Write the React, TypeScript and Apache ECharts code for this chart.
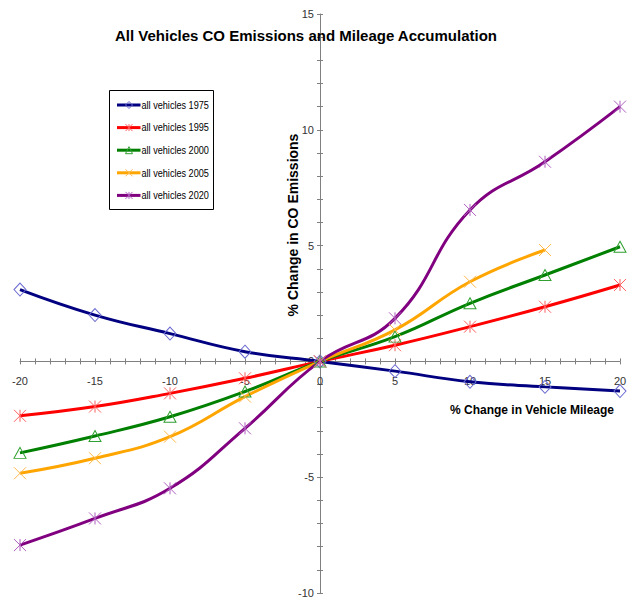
import React, { useEffect, useRef } from "react";
import * as echarts from "echarts";

const mileage = [-20, -15, -10, -5, 0, 5, 10, 15, 20];
const v1975 = [3.1, 2.0, 1.2, 0.42, 0, -0.42, -0.88, -1.1, -1.28];
const v1995 = [-2.35, -1.95, -1.38, -0.73, 0, 0.7, 1.5, 2.36, 3.3];
const v2000 = [-3.95, -3.22, -2.39, -1.3, 0, 1.07, 2.51, 3.73, 4.95];
const v2005 = [-4.83, -4.18, -3.25, -1.52, 0, 1.36, 3.44, 4.81, null];
const v2020 = [-7.93, -6.78, -5.48, -2.89, 0, 1.86, 6.54, 8.62, 11.0];

const seriesNames = [
  "all vehicles 1975",
  "all vehicles 1995",
  "all vehicles 2000",
  "all vehicles 2005",
  "all vehicles 2020",
];
const lineColors = ["#000080", "#ff0000", "#008000", "#ffa500", "#800080"];
const markColors = ["#6a6ad0", "#ff6060", "#30a030", "#ffb84a", "#b060c0"];
const markKinds = ["diamond", "star", "triangle", "x", "star"];

const titleText = "All Vehicles CO Emissions and Mileage Accumulation";
const xName = "% Change in Vehicle Mileage";
const yName = "% Change in CO Emissions";

const SANS = '"Liberation Sans", Arial, sans-serif';

const SYMBOLS: Record<string, string> = {
  diamond: "path://M5 0L10 6L5 12L0 6Z",
  triangle: "path://M5 0L10 10L0 10Z",
  star: "path://M0 0L10 10M10 0L0 10M5 0L5 10",
  x: "path://M0 0L10 10M10 0L0 10",
};
const SYMBOL_SIZES: Record<string, number | number[]> = {
  diamond: [12, 13],
  triangle: [12, 11],
  star: 12,
  x: 12,
};

function toPairs(vals: (number | null)[]) {
  const out: [number, number][] = [];
  vals.forEach((v, i) => {
    if (v !== null) out.push([mileage[i], v]);
  });
  return out;
}

function legendMarker(kind: string, cx: number, cy: number, color: string) {
  const s = { stroke: color, fill: "none", lineWidth: 1 };
  const r = 3.5;
  if (kind === "diamond") {
    return [{ type: "polygon", shape: { points: [[cx, cy - r], [cx + r, cy], [cx, cy + r], [cx - r, cy]] }, style: s }];
  }
  if (kind === "triangle") {
    return [{ type: "polygon", shape: { points: [[cx, cy - r], [cx + r, cy + r], [cx - r, cy + r]] }, style: s }];
  }
  const out: any[] = [
    { type: "line", shape: { x1: cx - r, y1: cy - r, x2: cx + r, y2: cy + r }, style: s },
    { type: "line", shape: { x1: cx + r, y1: cy - r, x2: cx - r, y2: cy + r }, style: s },
  ];
  if (kind === "star") {
    out.push({ type: "line", shape: { x1: cx, y1: cy - r, x2: cx, y2: cy + r }, style: s });
  }
  return out;
}

export default function App() {
  const ref = useRef<HTMLDivElement>(null);
  useEffect(() => {
    if (!ref.current) return;
    const chart = echarts.init(ref.current, undefined, { renderer: "svg" });

    const allVals = [v1975, v1995, v2000, v2005, v2020];
    const series = allVals.map((vals, i) => ({
      type: "line",
      name: seriesNames[i],
      data: toPairs(vals),
      xAxisIndex: 0,
      yAxisIndex: 0,
      smooth: 0.45,
      symbol: SYMBOLS[markKinds[i]],
      symbolSize: SYMBOL_SIZES[markKinds[i]],
      showAllSymbol: true,
      color: lineColors[i],
      lineStyle: { color: lineColors[i], width: 3 },
      itemStyle: { color: "rgba(0,0,0,0)", borderColor: markColors[i], borderWidth: 1 },
      emphasis: { disabled: true },
      z: 3,
    }));

    const W = 632, H = 605;
    const gLeft = 20, gRight = 12, gTop = 14, gBottom = 12;
    const gw = W - gLeft - gRight;
    const gh = H - gTop - gBottom;
    const xMin = -20, xMax = 20, yMin = -10, yMax = 15;
    const xOffset = -((0 - yMin) / (yMax - yMin)) * gh;
    const yOffset = -((0 - xMin) / (xMax - xMin)) * gw;

    const axisLineStyle = { color: "#808080", width: 1 };
    const fmt = (v: number) => (Math.round(v) % 5 === 0 ? String(Math.round(v)) : "");
    const labelStyle = { fontFamily: SANS, fontSize: 11, color: "#333", showMinLabel: true, showMaxLabel: true };

    // legend drawn as graphic
    const lgX = 109.5, lgY = 90.5;
    const legendChildren: any[] = [
      { type: "rect", shape: { x: 0, y: 0, width: 104, height: 119 }, style: { fill: "#fff", stroke: "#000", lineWidth: 1 } },
    ];
    seriesNames.forEach((n, i) => {
      const cy = 14.5 + i * 22.6;
      legendChildren.push({
        type: "line",
        shape: { x1: 7.5, y1: cy, x2: 31, y2: cy },
        style: { stroke: lineColors[i], lineWidth: 3 },
      });
      legendMarker(markKinds[i], 19.5, cy, markColors[i]).forEach((m) => legendChildren.push(m));
      legendChildren.push({
        type: "text",
        x: 32,
        y: cy,
        scaleX: 0.83,
        style: {
          text: n,
          fontFamily: SANS,
          fontSize: 11,
          fill: "#000",
          align: "left",
          verticalAlign: "middle",
        },
      });
    });

    chart.setOption({
      animation: false,
      backgroundColor: "#ffffff",
      grid: { left: gLeft, right: gRight, top: gTop, bottom: gBottom, containLabel: false },
      xAxis: [
        {
          type: "value",
          min: xMin,
          max: xMax,
          interval: 1,
          position: "bottom",
          offset: xOffset,
          axisLine: { show: true, onZero: false, lineStyle: axisLineStyle },
          axisTick: { show: true, inside: false, length: 3, lineStyle: axisLineStyle },
          axisLabel: { ...labelStyle, formatter: fmt, margin: 14 },
          splitLine: { show: false },
          z: 2,
        },
        {
          type: "value",
          min: xMin,
          max: xMax,
          interval: 1,
          position: "bottom",
          offset: xOffset,
          axisLine: { show: false, onZero: false },
          axisTick: { show: true, inside: true, length: 3, lineStyle: axisLineStyle },
          axisLabel: { show: false },
          splitLine: { show: false },
          z: 2,
        },
      ],
      yAxis: [
        {
          type: "value",
          min: yMin,
          max: yMax,
          interval: 1,
          position: "left",
          offset: yOffset,
          axisLine: { show: true, onZero: false, lineStyle: axisLineStyle },
          axisTick: { show: true, inside: false, length: 3, lineStyle: axisLineStyle },
          axisLabel: { ...labelStyle, formatter: fmt, margin: 6 },
          splitLine: { show: false },
          z: 2,
        },
        {
          type: "value",
          min: yMin,
          max: yMax,
          interval: 1,
          position: "left",
          offset: yOffset,
          axisLine: { show: false, onZero: false },
          axisTick: { show: true, inside: true, length: 3, lineStyle: axisLineStyle },
          axisLabel: { show: false },
          splitLine: { show: false },
          z: 2,
        },
      ],
      series,
      graphic: [
        {
          type: "text",
          x: 306,
          y: 35,
          style: {
            text: titleText,
            fontFamily: SANS,
            fontWeight: "bold",
            fontSize: 15,
            fill: "#000",
            align: "center",
            verticalAlign: "middle",
          },
          z: 10,
        },
        {
          type: "text",
          x: 532,
          y: 410,
          style: {
            text: xName,
            fontFamily: SANS,
            fontWeight: "bold",
            fontSize: 12,
            fill: "#000",
            align: "center",
            verticalAlign: "middle",
          },
          z: 10,
        },
        {
          type: "text",
          x: 293,
          y: 225,
          rotation: Math.PI / 2,
          style: {
            text: yName,
            fontFamily: SANS,
            fontWeight: "bold",
            fontSize: 14,
            fill: "#000",
            align: "center",
            verticalAlign: "middle",
          },
          z: 10,
        },
        {
          type: "group",
          x: lgX,
          y: lgY,
          z: 20,
          children: legendChildren,
        },
      ],
    });
    return () => chart.dispose();
  }, []);
  return (
    <div
      ref={ref}
      style={{ position: "fixed", left: 0, top: 0, width: 632, height: 605, background: "#fff" }}
    />
  );
}
